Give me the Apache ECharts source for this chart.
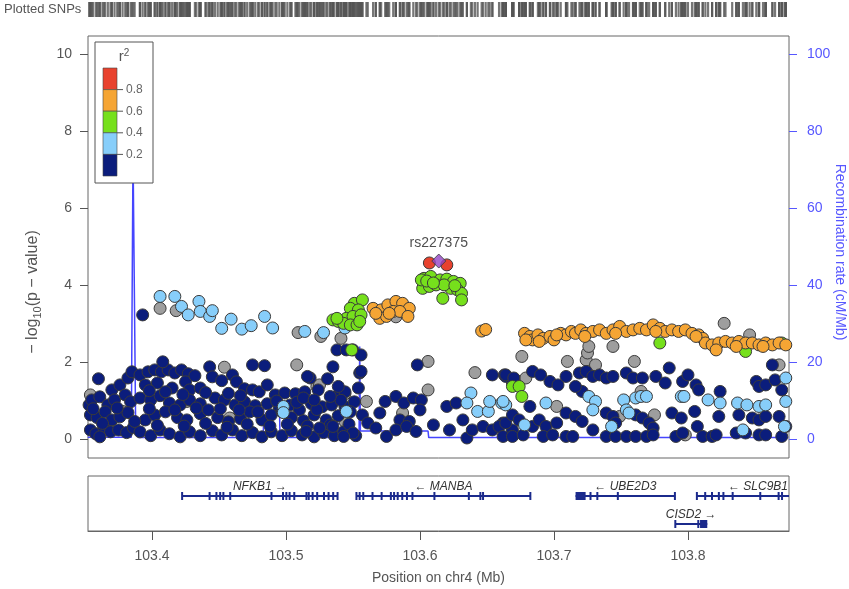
<!DOCTYPE html>
<html>
<head>
<meta charset="utf-8">
<script src="https://cdn.jsdelivr.net/npm/echarts@6/dist/echarts.min.js"></script>
<style>
html,body{margin:0;padding:0;background:#fff}
#main{width:849px;height:589px}
</style>
</head>
<body>
<div id="main"></div>
<script>
// x range of the region (Mb)
var XMIN = 103.3522, XMAX = 103.8754;
var xTicks = [103.4, 103.5, 103.6, 103.7, 103.8];
var yTicks = [0, 2, 4, 6, 8, 10];
var recTicks = [0, 20, 40, 60, 80, 100];

// SNPs: [position Mb, -log10 p], grouped by r2 bin
var navyPts = [
  [103.353,0.88],[103.360,1.56],[103.370,1.27],[103.376,1.40],[103.382,1.58],[103.385,1.74],
  [103.355,1.01],[103.361,1.09],[103.367,0.88],[103.372,1.01],[103.380,1.14],[103.384,0.96],
  [103.354,0.62],[103.359,0.55],[103.365,0.70],[103.370,0.49],[103.376,0.57],[103.382,0.68],
  [103.354,0.23],[103.358,0.13],[103.364,0.29],[103.369,0.18],[103.375,0.23],[103.381,0.16],
  [103.386,0.29],[103.361,0.05],[103.393,3.22],
  [103.391,1.66],[103.397,1.74],[103.402,1.79],[103.407,1.74],[103.412,1.79],[103.417,1.71],
  [103.422,1.79],[103.427,1.69],[103.408,2.00],[103.425,1.48],[103.432,1.64],
  [103.395,1.40],[103.404,1.45],[103.415,1.32],[103.428,1.27],[103.436,1.32],[103.443,1.87],
  [103.445,1.61],[103.452,1.51],[103.460,1.66],[103.463,1.48],[103.469,1.30],[103.475,1.92],
  [103.484,1.90],[103.475,1.27],[103.480,1.22],[103.486,1.40],[103.492,1.14],[103.499,1.19],
  [103.507,1.17],[103.514,1.22],[103.518,1.58],[103.524,1.27],[103.531,1.56],[103.535,1.87],
  [103.539,1.14],[103.544,1.22],
  [103.391,1.06],[103.399,1.01],[103.406,1.12],[103.413,0.93],[103.421,0.88],[103.428,1.01],
  [103.436,0.91],[103.447,1.06],[103.454,1.01],[103.462,0.88],[103.469,0.96],[103.477,0.86],
  [103.486,0.91],[103.495,0.80],[103.503,0.88],[103.510,0.75],[103.519,0.91],[103.527,0.83],
  [103.534,0.88],[103.544,0.83],[103.551,0.96],
  [103.395,0.49],[103.402,0.62],[103.410,0.70],[103.419,0.55],[103.426,0.49],[103.436,0.65],
  [103.442,0.75],[103.449,0.55],[103.457,0.44],[103.466,0.52],[103.473,0.70],[103.482,0.49],
  [103.489,0.62],[103.497,0.70],[103.504,0.55],[103.513,0.47],[103.521,0.62],[103.530,0.49],
  [103.539,0.60],[103.548,0.70],
  [103.391,0.18],[103.399,0.08],[103.406,0.23],[103.413,0.13],[103.421,0.05],[103.428,0.18],
  [103.436,0.08],[103.445,0.21],[103.452,0.10],[103.460,0.23],[103.467,0.08],[103.475,0.16],
  [103.482,0.05],[103.489,0.18],[103.497,0.08],[103.504,0.21],[103.512,0.10],[103.521,0.05],
  [103.528,0.16],[103.536,0.08],[103.543,0.18],[103.552,0.08],
  [103.356,0.78],[103.363,0.40],[103.374,0.80],[103.387,0.45],[103.398,0.78],[103.404,0.35],
  [103.417,0.75],[103.424,0.33],[103.433,0.80],[103.440,0.40],[103.451,0.78],[103.456,0.30],
  [103.465,0.75],[103.471,0.38],[103.479,0.70],[103.488,0.33],[103.493,0.98],[103.501,0.38],
  [103.508,0.95],[103.516,0.33],[103.523,0.76],[103.533,0.36],[103.541,1.00],[103.547,0.38],
  [103.398,1.25],[103.410,1.22],[103.423,1.15],[103.440,1.20],[103.457,1.18],[103.466,1.12],
  [103.538,2.31],[103.545,2.31],[103.550,2.31],[103.556,2.18],[103.555,1.71],
  [103.598,1.92],[103.556,1.75],[103.516,1.62],[103.654,1.66],[103.663,1.66],[103.539,1.36],
  [103.554,1.32],[103.513,1.06],[103.521,1.01],[103.533,1.10],[103.574,0.97],[103.582,1.10],
  [103.588,0.93],[103.595,1.06],[103.601,1.01],[103.620,0.84],[103.627,0.93],[103.632,0.49],
  [103.557,0.62],[103.570,0.67],[103.585,0.49],[103.592,0.45],[103.600,0.75],[103.561,0.41],
  [103.567,0.28],[103.575,0.06],[103.582,0.23],[103.590,0.32],[103.597,0.19],[103.610,0.36],
  [103.622,0.23],[103.635,0.02],[103.639,0.23],[103.647,0.32],[103.654,0.23],[103.662,0.41],
  [103.669,0.23],[103.550,0.15],[103.543,0.06],[103.525,0.28],[103.515,0.19],[103.535,0.32],
  [103.664,1.62],[103.669,1.45],
  [103.664,1.66],[103.670,1.58],[103.684,1.75],[103.690,1.66],[103.697,1.49],[103.703,1.40],
  [103.709,1.62],[103.719,1.71],[103.724,1.75],[103.729,1.62],[103.734,1.66],[103.739,1.58],
  [103.744,1.62],[103.754,1.71],[103.759,1.58],[103.766,1.58],[103.776,1.62],[103.783,1.45],
  [103.786,1.84],[103.796,1.49],[103.800,1.66],[103.806,1.40],[103.808,1.27],[103.824,1.23],
  [103.851,1.49],[103.853,1.36],[103.858,1.40],[103.863,1.92],[103.865,1.53],[103.870,1.27],
  [103.721,1.23],[103.716,1.36],
  [103.659,0.32],[103.664,0.41],[103.669,0.62],[103.674,0.49],[103.682,0.84],[103.684,0.32],
  [103.689,0.49],[103.694,0.32],[103.702,0.41],[103.709,0.67],[103.716,0.58],[103.721,0.45],
  [103.729,0.23],[103.739,0.67],[103.744,0.58],[103.746,0.41],[103.761,0.62],[103.766,0.54],
  [103.771,0.41],[103.774,0.28],[103.788,0.67],[103.795,0.54],[103.805,0.71],[103.807,0.32],
  [103.823,0.58],[103.838,0.62],[103.848,0.54],[103.853,0.49],[103.858,0.58],[103.868,0.58],
  [103.873,0.32],
  [103.662,0.06],[103.669,0.06],[103.677,0.10],[103.692,0.06],[103.699,0.10],[103.709,0.06],
  [103.714,0.06],[103.739,0.06],[103.746,0.06],[103.754,0.06],[103.761,0.06],[103.769,0.06],
  [103.774,0.10],[103.791,0.06],[103.796,0.15],[103.811,0.06],[103.818,0.06],[103.821,0.10],
  [103.836,0.15],[103.843,0.15],[103.853,0.10],[103.858,0.10],[103.870,0.06]
];
var ltbluePts = [
  [103.406,3.70],[103.417,3.70],[103.435,3.57],[103.422,3.44],[103.427,3.22],[103.436,3.31],
  [103.443,3.18],[103.445,3.33],[103.452,2.87],[103.459,3.11],[103.467,2.85],[103.474,2.94],
  [103.484,3.18],[103.490,2.88],[103.514,2.79],[103.528,2.76],[103.544,2.88],[103.545,0.71],
  [103.498,0.84],[103.498,0.68],
  [103.638,1.19],[103.635,0.93],[103.643,0.71],[103.651,0.71],[103.652,0.97],[103.661,0.93],
  [103.664,0.88],
  [103.662,0.97],[103.694,0.93],[103.726,1.10],[103.731,0.97],[103.729,0.75],[103.752,1.01],
  [103.754,0.75],[103.756,0.67],[103.761,1.06],[103.765,1.10],[103.769,1.10],[103.795,1.10],
  [103.797,1.10],[103.815,1.01],[103.824,0.93],[103.837,0.93],[103.844,0.88],[103.853,0.84],
  [103.858,0.88],[103.873,0.97],[103.873,1.58],[103.678,0.36],[103.743,0.32],[103.841,0.23],
  [103.872,0.32]
];
var greenPts = [
  [103.551,3.52],[103.557,3.61],[103.548,3.39],[103.554,3.35],[103.535,3.09],[103.539,3.05],
  [103.545,3.13],[103.550,3.18],[103.556,3.22],[103.543,3.00],[103.548,2.96],[103.553,2.96],
  [103.555,3.05],[103.538,3.13],[103.549,2.31],
  [103.603,4.17],[103.608,4.22],[103.615,4.13],[103.620,4.15],[103.625,4.09],[103.630,4.04],
  [103.602,3.91],[103.607,3.96],[103.612,4.00],[103.623,3.91],[103.628,3.87],[103.631,3.78],
  [103.617,3.65],[103.631,3.61],[103.601,4.13],[103.618,4.00],[103.605,4.10],[103.610,4.05],
  [103.626,3.98],
  [103.669,1.36],[103.674,1.36],[103.676,1.10],[103.779,2.49],[103.843,2.27],[103.870,2.49]
];
var orangePts = [
  [103.565,3.39],[103.571,3.35],[103.576,3.48],[103.582,3.57],[103.587,3.52],[103.592,3.39],
  [103.570,3.13],[103.575,3.18],[103.580,3.31],[103.585,3.31],[103.591,3.18],[103.567,3.26],
  [103.577,3.26],[103.646,2.80],[103.649,2.84],
  [103.678,2.74],[103.682,2.66],[103.684,2.57],[103.688,2.70],[103.692,2.61],[103.697,2.66],
  [103.700,2.57],[103.705,2.74],[103.709,2.70],[103.713,2.79],[103.716,2.74],[103.720,2.83],
  [103.724,2.74],[103.729,2.79],[103.734,2.83],[103.739,2.74],[103.744,2.83],[103.749,2.92],
  [103.754,2.79],[103.759,2.83],[103.764,2.87],[103.769,2.83],[103.774,2.96],[103.779,2.87],
  [103.783,2.79],[103.788,2.83],[103.793,2.79],[103.798,2.83],[103.803,2.74],[103.808,2.70],
  [103.811,2.61],[103.813,2.49],[103.818,2.44],[103.823,2.49],[103.828,2.53],[103.833,2.49],
  [103.838,2.53],[103.843,2.49],[103.848,2.49],[103.853,2.44],[103.858,2.49],[103.863,2.44],
  [103.868,2.49],[103.873,2.44],[103.679,2.57],[103.689,2.53],[103.702,2.70],[103.723,2.66],
  [103.746,2.74],[103.776,2.79],[103.806,2.66],[103.821,2.31],[103.836,2.40],[103.856,2.40]
];
var redPts = [[103.607,4.57],[103.620,4.52]];
var indexPt = [[103.614,4.62]];
var indexName = 'rs227375';
var grayPts = [
  [103.406,3.39],[103.418,3.33],[103.509,2.76],[103.526,2.66],[103.541,2.61],[103.508,1.92],
  [103.454,1.86],[103.523,1.36],[103.544,1.17],[103.560,0.97],[103.582,3.17],[103.606,2.01],
  [103.641,1.72],[103.606,1.27],[103.587,0.67],[103.544,0.45],[103.354,1.14],[103.378,0.71],
  [103.426,0.97],[103.458,0.54],[103.525,1.40],
  [103.674,1.49],[103.679,1.58],[103.702,0.84],[103.749,0.58],[103.775,0.62],[103.798,0.10],
  [103.765,1.23],[103.676,2.14],[103.710,2.01],[103.724,2.05],[103.725,2.23],[103.726,2.40],
  [103.731,1.92],[103.744,2.40],[103.760,2.01],[103.827,3.00],[103.846,2.70],[103.868,1.92]
];

// recombination rate (cM/Mb)
var recombPos  = [103.352,103.3845,103.3858,103.3866,103.3878,103.390,103.483,103.4835,103.495,103.4955,103.532,103.5325,103.542,103.5425,103.5545,103.555,103.5555,103.606,103.6065,103.875];
var recombRate = [0.4,    0.4,     75,      75,      2,       0.3,    0.3,    10,      10,     0.3,     0.3,    4,       4,      0.3,     0.5,     24,     2,       2,      0.3,     0.3];

// genes
var geneLabels = ['NFKB1 \u2192', '\u2190 MANBA', '\u2190 UBE2D3', '\u2190 SLC9B1', 'CISD2 \u2192'];
var geneStart  = [103.4223, 103.5524, 103.7161, 103.8065, 103.7904];
var geneEnd    = [103.5387, 103.6825, 103.7904, 103.9400, 103.8144];
var geneRow    = [0, 0, 0, 0, 1];
var geneExons  = [
  [[103.4223,103.4226],[103.4428,103.4431],[103.4479,103.4482],[103.4507,103.4510],[103.4531,103.4534],
   [103.4582,103.4585],[103.4890,103.4893],[103.4976,103.4979],[103.5001,103.5004],[103.5025,103.5028],
   [103.5060,103.5063],[103.5145,103.5160],[103.5168,103.5171],[103.5197,103.5200],[103.5231,103.5234],
   [103.5282,103.5285],[103.5316,103.5319],[103.5350,103.5354],[103.5382,103.5387]],
  [[103.5524,103.5527],[103.5548,103.5551],[103.5575,103.5578],[103.5644,103.5647],[103.5712,103.5715],
   [103.5781,103.5784],[103.5805,103.5808],[103.5832,103.5835],[103.5866,103.5869],[103.5901,103.5904],
   [103.5942,103.5945],[103.6106,103.6109],[103.6363,103.6366],[103.6449,103.6452],[103.6469,103.6472],
   [103.6822,103.6825]],
  [[103.7161,103.7236],[103.7271,103.7274],[103.7322,103.7325],[103.7474,103.7479],[103.7901,103.7904]],
  [[103.8065,103.8068],[103.8127,103.8130],[103.8178,103.8181],[103.8229,103.8232],[103.8262,103.8267],
   [103.8332,103.8335],[103.8538,103.8541],[103.8675,103.8678],[103.8700,103.8704]],
  [[103.7904,103.7907],[103.8075,103.8079],[103.8090,103.8144]]
];

var C_NAVY = '#0b1d7c', C_LTBLUE = '#87cefa', C_GREEN = '#76e01c', C_ORANGE = '#f5a534',
    C_RED = '#e8422e', C_PURPLE = '#9344c6', C_GRAY = '#9e9e9e', C_GENE = '#1b2a8c';
var FONT = 'Liberation Sans, Arial, Helvetica, sans-serif';

var myChart = echarts.init(document.getElementById('main'));

function snpSeries(name, data, color, z) {
  return {
    name: name, type: 'scatter', xAxisIndex: 0, yAxisIndex: 0,
    data: data, symbol: 'circle', symbolSize: 12, z: z,
    itemStyle: { color: color, borderColor: '#3a3a3a', borderWidth: 1, opacity: 1 },
    emphasis: { disabled: true }, silent: true
  };
}

var allPos = [];
[grayPts, navyPts, ltbluePts, greenPts, orangePts, redPts, indexPt].forEach(function (arr) {
  arr.forEach(function (p) { allPos.push([p[0], 0.5]); });
});

var recombData = recombPos.map(function (p, i) { return [p, recombRate[i]]; });
var geneData = geneLabels.map(function (g, i) { return [geneStart[i], geneEnd[i], geneRow[i], i]; });

function renderGene(params, api) {
  var i = api.value(3);
  var row = api.value(2);
  var cs = params.coordSys;
  var p0 = api.coord([api.value(0), row]);
  var p1 = api.coord([api.value(1), row]);
  var right = cs.x + cs.width;
  var x0 = Math.max(p0[0], cs.x), x1 = Math.min(p1[0], right);
  var yc = p0[1];
  var children = [{
    type: 'rect', shape: { x: x0, y: yc - 1, width: x1 - x0, height: 2 },
    style: { fill: C_GENE }
  }];
  geneExons[i].forEach(function (e) {
    var a = api.coord([e[0], row])[0], b = api.coord([e[1], row])[0];
    if (a > right) return;
    var w = Math.max(2, b - a);
    children.push({
      type: 'rect', shape: { x: (a + b) / 2 - w / 2, y: yc - 4, width: w, height: 8 },
      style: { fill: C_GENE }
    });
  });
  var lx = (p0[0] + p1[0]) / 2, align = 'center';
  if (api.value(1) > XMAX) { lx = right - 1; align = 'right'; }
  children.push({
    type: 'text', x: lx, y: yc - 9,
    style: { text: geneLabels[i], fill: '#333', font: 'italic 12px ' + FONT, align: align, verticalAlign: 'middle' }
  });
  return { type: 'group', children: children };
}

myChart.setOption({
  animation: false,
  grid: [
    { left: 88, top: 36, width: 701, height: 422, show: true, borderColor: '#666', borderWidth: 1, backgroundColor: '#fff' },
    { left: 88, top: 476, width: 701, height: 55, show: true, borderColor: '#666', borderWidth: 1 },
    { left: 88, top: 2, width: 701, height: 15, show: false }
  ],
  xAxis: [
    { gridIndex: 0, type: 'value', min: XMIN, max: XMAX, show: false, splitLine: { show: false } },
    {
      gridIndex: 1, type: 'value', min: XMIN, max: XMAX,
      axisLine: { show: true, onZero: false, lineStyle: { color: '#666' } },
      axisTick: { show: true, length: 9, lineStyle: { color: '#555' }, customValues: xTicks },
      axisLabel: { customValues: xTicks, color: '#555', fontSize: 14, fontFamily: FONT, margin: 18,
        formatter: function (v) { return v.toFixed(1); } },
      splitLine: { show: false },
      name: 'Position on chr4 (Mb)', nameLocation: 'middle', nameGap: 40,
      nameTextStyle: { color: '#555', fontSize: 14, fontFamily: FONT }
    },
    { gridIndex: 2, type: 'value', min: XMIN, max: XMAX, show: false }
  ],
  yAxis: [
    {
      gridIndex: 0, type: 'value', min: -0.5, max: 10.47,
      axisLine: { show: false },
      axisTick: { show: true, length: 8, lineStyle: { color: '#555' }, customValues: yTicks },
      axisLabel: { customValues: yTicks, color: '#555', fontSize: 14, fontFamily: FONT, margin: 16 },
      splitLine: { show: false }
    },
    {
      gridIndex: 0, type: 'value', position: 'right', min: -5, max: 104.7,
      axisLine: { show: false },
      axisTick: { show: true, length: 8, lineStyle: { color: '#5757ff' }, customValues: recTicks },
      axisLabel: { customValues: recTicks, color: '#5757ff', fontSize: 14, fontFamily: FONT, margin: 18 },
      splitLine: { show: false }
    },
    { gridIndex: 1, type: 'value', min: -0.714, max: 1.25, inverse: true, show: false },
    { gridIndex: 2, type: 'value', min: 0, max: 1, show: false }
  ],
  series: [
    {
      type: 'line', xAxisIndex: 0, yAxisIndex: 1, data: recombData, showSymbol: false, z: 1,
      lineStyle: { color: '#4545ff', width: 1.5 }, silent: true
    },
    snpSeries('NA', grayPts, C_GRAY, 2),
    snpSeries('r2<0.2', navyPts, C_NAVY, 3),
    snpSeries('0.2-0.4', ltbluePts, C_LTBLUE, 4),
    snpSeries('0.4-0.6', greenPts, C_GREEN, 5),
    snpSeries('0.6-0.8', orangePts, C_ORANGE, 6),
    snpSeries('0.8-1', redPts, C_RED, 7),
    {
      type: 'scatter', xAxisIndex: 0, yAxisIndex: 0, data: indexPt, symbol: 'diamond', symbolSize: 14, z: 8,
      itemStyle: { color: C_PURPLE, borderColor: '#3a3a3a', borderWidth: 1 },
      label: { show: true, position: 'top', distance: 3, formatter: indexName, color: '#222', fontSize: 14, fontFamily: FONT },
      silent: true
    },
    {
      type: 'custom', xAxisIndex: 1, yAxisIndex: 2, data: geneData, renderItem: renderGene, silent: true
    },
    {
      type: 'scatter', xAxisIndex: 2, yAxisIndex: 3, data: allPos, symbol: 'rect', symbolSize: [2.2, 15],
      itemStyle: { color: '#555555' }, silent: true
    }
  ],
  graphic: [
    { type: 'text', left: 4, top: 3, style: { text: 'Plotted SNPs', fill: '#555', font: '13px ' + FONT } },
    {
      type: 'text', x: 33, y: 292, rotation: Math.PI / 2,
      style: {
        text: '{a|\u2212 log}{b|10}{a|(p \u2212 value)}', align: 'center', verticalAlign: 'middle',
        rich: { a: { fontSize: 16, fill: '#555', fontFamily: FONT }, b: { fontSize: 11, fill: '#555', fontFamily: FONT, padding: [9, 0, 0, 0] } }
      }
    },
    {
      type: 'text', x: 840, y: 252, rotation: -Math.PI / 2,
      style: { text: 'Recombination rate (cM/Mb)', fill: '#5757ff', font: '14px ' + FONT, align: 'center', verticalAlign: 'middle' }
    },
    // r2 legend
    { type: 'rect', z: 100, shape: { x: 95, y: 42, width: 58, height: 141 }, style: { fill: '#fff', stroke: '#555', lineWidth: 1 } },
    { type: 'rect', z: 101, shape: { x: 103, y: 68, width: 14, height: 21.6 }, style: { fill: C_RED, stroke: '#444', lineWidth: 0.6 } },
    { type: 'rect', z: 101, shape: { x: 103, y: 89.6, width: 14, height: 21.6 }, style: { fill: C_ORANGE, stroke: '#444', lineWidth: 0.6 } },
    { type: 'rect', z: 101, shape: { x: 103, y: 111.2, width: 14, height: 21.6 }, style: { fill: C_GREEN, stroke: '#444', lineWidth: 0.6 } },
    { type: 'rect', z: 101, shape: { x: 103, y: 132.8, width: 14, height: 21.6 }, style: { fill: C_LTBLUE, stroke: '#444', lineWidth: 0.6 } },
    { type: 'rect', z: 101, shape: { x: 103, y: 154.4, width: 14, height: 21.6 }, style: { fill: C_NAVY, stroke: '#444', lineWidth: 0.6 } },
    { type: 'line', z: 101, shape: { x1: 117, y1: 89.6, x2: 123, y2: 89.6 }, style: { stroke: '#555', lineWidth: 1 } },
    { type: 'line', z: 101, shape: { x1: 117, y1: 111.2, x2: 123, y2: 111.2 }, style: { stroke: '#555', lineWidth: 1 } },
    { type: 'line', z: 101, shape: { x1: 117, y1: 132.8, x2: 123, y2: 132.8 }, style: { stroke: '#555', lineWidth: 1 } },
    { type: 'line', z: 101, shape: { x1: 117, y1: 154.4, x2: 123, y2: 154.4 }, style: { stroke: '#555', lineWidth: 1 } },
    { type: 'text', z: 101, x: 126, y: 89.6, style: { text: '0.8', fill: '#666', font: '12px ' + FONT, verticalAlign: 'middle' } },
    { type: 'text', z: 101, x: 126, y: 111.2, style: { text: '0.6', fill: '#666', font: '12px ' + FONT, verticalAlign: 'middle' } },
    { type: 'text', z: 101, x: 126, y: 132.8, style: { text: '0.4', fill: '#666', font: '12px ' + FONT, verticalAlign: 'middle' } },
    { type: 'text', z: 101, x: 126, y: 154.4, style: { text: '0.2', fill: '#666', font: '12px ' + FONT, verticalAlign: 'middle' } },
    {
      type: 'text', z: 101, x: 124, y: 57,
      style: {
        text: '{a|r}{b|2}', align: 'center', verticalAlign: 'middle',
        rich: { a: { fontSize: 15, fill: '#555', fontFamily: FONT }, b: { fontSize: 10, fill: '#555', fontFamily: FONT, padding: [0, 0, 8, 0] } }
      }
    }
  ]
});
</script>
</body>
</html>
